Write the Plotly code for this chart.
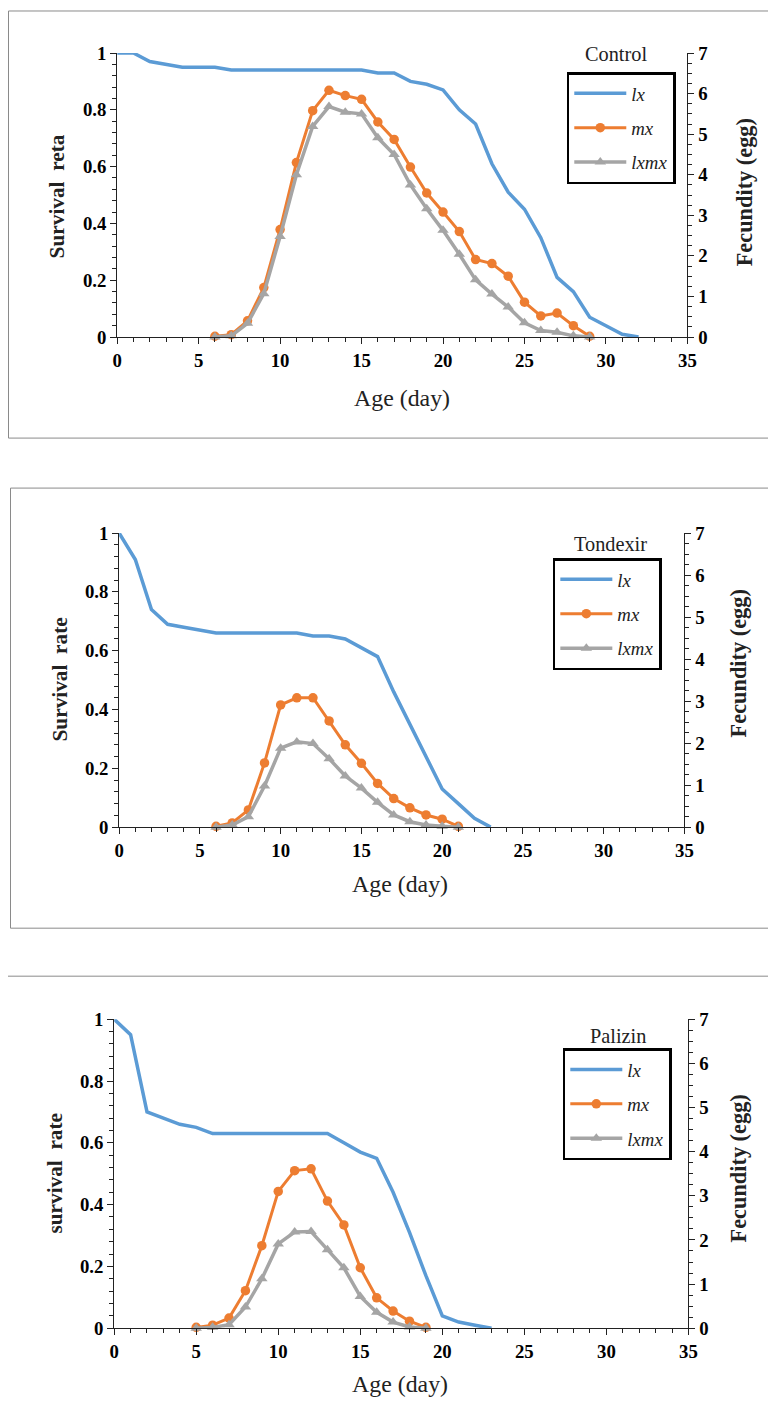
import plotly.graph_objects as go

W, H = 776, 1418

# ---------------- data ----------------
days_lx_control = list(range(0, 33))
lx_control = [1, 1, 0.97, 0.96, 0.95, 0.95, 0.95, 0.94, 0.94, 0.94, 0.94, 0.94, 0.94, 0.94, 0.94, 0.94,
              0.93, 0.93, 0.90, 0.89, 0.87, 0.80, 0.75, 0.61, 0.51, 0.45, 0.35, 0.21, 0.16, 0.07, 0.04, 0.01, 0]
days_f_control = list(range(6, 30))
mx_control = [0.02, 0.06, 0.4, 1.22, 2.65, 4.3, 5.58, 6.08, 5.95, 5.86, 5.3, 4.87, 4.19, 3.55, 3.08, 2.6,
              1.91, 1.81, 1.5, 0.86, 0.52, 0.59, 0.28, 0.02]
lxmx_control = [0, 0.03, 0.34, 1.07, 2.48, 4.0, 5.19, 5.68, 5.54, 5.5, 4.91, 4.5, 3.75, 3.16, 2.63, 2.04,
                1.41, 1.06, 0.74, 0.35, 0.16, 0.12, 0.03, 0]

days_lx_tondexir = list(range(0, 24))
lx_tondexir = [1, 0.91, 0.74, 0.69, 0.68, 0.67, 0.66, 0.66, 0.66, 0.66, 0.66, 0.66, 0.65, 0.65, 0.64, 0.61,
               0.58, 0.46, 0.35, 0.24, 0.13, 0.08, 0.03, 0]
days_f_tondexir = list(range(6, 22))
mx_tondexir = [0.02, 0.1, 0.41, 1.53, 2.91, 3.08, 3.08, 2.53, 1.96, 1.52, 1.04, 0.68, 0.46, 0.29, 0.19, 0.02]
lxmx_tondexir = [0, 0.05, 0.25, 0.98, 1.88, 2.03, 1.99, 1.63, 1.22, 0.93, 0.59, 0.29, 0.13, 0.05, 0.02, 0]

days_lx_palizin = list(range(0, 24))
lx_palizin = [1, 0.95, 0.70, 0.68, 0.66, 0.65, 0.63, 0.63, 0.63, 0.63, 0.63, 0.63, 0.63, 0.63, 0.60, 0.57,
              0.55, 0.44, 0.31, 0.17, 0.04, 0.02, 0.01, 0]
days_f_palizin = list(range(5, 20))
mx_palizin = [0.02, 0.07, 0.23, 0.85, 1.87, 3.1, 3.57, 3.61, 2.88, 2.34, 1.37, 0.69, 0.39, 0.16, 0.02]
lxmx_palizin = [0, 0.02, 0.08, 0.48, 1.12, 1.91, 2.18, 2.19, 1.78, 1.37, 0.72, 0.36, 0.14, 0.03, 0]

panel_titles = ["Control", "Tondexir", "Palizin"]
left_titles = ["Survival  reta", "Survival  rate", "survival  rate"]
right_title = "Fecundity (egg)"
x_title = "Age (day)"
series_names = ["lx", "mx", "lxmx"]

panels = [
    (days_lx_control, lx_control, days_f_control, mx_control, lxmx_control),
    (days_lx_tondexir, lx_tondexir, days_f_tondexir, mx_tondexir, lxmx_tondexir),
    (days_lx_palizin, lx_palizin, days_f_palizin, mx_palizin, lxmx_palizin),
]

# ---------------- layout geometry (target screen pixels) ----------------
plot_boxes = [  # x0, x1, ytop, ybottom
    (117, 689, 52, 336),
    (119, 686, 532, 826),
    (114, 690, 1018, 1327),
]
frames = [(8, 10, 437), (10, 487, 927), (6, 975, 1440)]
legend_pos = [(568, 71), (554, 557), (564, 1047)]
ptitle_pos = [(617, 53), (612, 543), (619, 1035)]
ltitle_pos = [(57, 195), (60, 678), (55, 1172)]
rtitle_pos = [(746, 191), (740, 662), (740, 1167)]
xtitle_pos = [(403, 397), (401, 883), (401, 1383)]

# observed page placement of the figure on screen: screen = S * fig + offset
S, OX, OY = 0.985, 12.5, 17.0

C_BLUE, C_ORANGE, C_GRAY = "#5B9BD5", "#ED7D31", "#A5A5A5"
SERIF = "Liberation Serif"


def px(x):
    return ((x - OX) / S) / W


def py(y):
    return 1 - ((y - OY) / S) / H


def fs(s):
    return s / S


fig = go.Figure()
layout = dict(
    width=W, height=H, margin=dict(l=0, r=0, t=0, b=0),
    paper_bgcolor="white", plot_bgcolor="white", showlegend=True,
    shapes=[], annotations=[],
)

tick_font = dict(family=SERIF, size=fs(18.5), color="black", weight="bold")

for i, (dlx, lx, df, mx, lxmx) in enumerate(panels):
    n = i + 1
    xa = "x" if n == 1 else f"x{n}"
    yl = f"y{2 * n - 1}" if n > 1 else "y"
    yr = f"y{2 * n}"
    leg = "legend" if n == 1 else f"legend{n}"

    fig.add_trace(go.Scatter(x=dlx, y=lx, mode="lines", name=series_names[0], xaxis=xa, yaxis=yl,
                             line=dict(color=C_BLUE, width=3.5), legend=leg, legendgroup=f"a{n}",
                             cliponaxis=False))
    fig.add_trace(go.Scatter(x=df, y=mx, mode="lines+markers", name=series_names[1], xaxis=xa, yaxis=yr,
                             line=dict(color=C_ORANGE, width=3),
                             marker=dict(symbol="circle", size=9.5, color=C_ORANGE),
                             legend=leg, legendgroup=f"b{n}", cliponaxis=False))
    fig.add_trace(go.Scatter(x=df, y=lxmx, mode="lines+markers", name=series_names[2], xaxis=xa, yaxis=yr,
                             line=dict(color=C_GRAY, width=3.5),
                             marker=dict(symbol="triangle-up", size=10, color=C_GRAY),
                             legend=leg, legendgroup=f"c{n}", cliponaxis=False))

    x0, x1, yt, yb = plot_boxes[i]
    xkey = "xaxis" if n == 1 else f"xaxis{n}"
    ylkey = "yaxis" if n == 1 else f"yaxis{2 * n - 1}"
    yrkey = f"yaxis{2 * n}"
    common = dict(showline=True, linecolor="#222", linewidth=1, showgrid=False, zeroline=False,
                  ticks="outside", ticklen=6, tickcolor="#222", tickfont=tick_font)
    layout[xkey] = dict(
        domain=[px(x0), px(x1)], anchor=yl, range=[0, 35], dtick=5, tick0=0,
        minor=dict(dtick=1, ticks="outside", ticklen=4, tickcolor="#222", showgrid=False), **common)
    layout[ylkey] = dict(
        domain=[py(yb), py(yt)], anchor=xa, range=[0, 1], dtick=0.2, tick0=0,
        minor=dict(dtick=0.04, ticks="outside", ticklen=4, tickcolor="#222", showgrid=False), **common)
    layout[yrkey] = dict(
        domain=[py(yb), py(yt)], anchor=xa, overlaying=yl, side="right", range=[0, 7], dtick=1, tick0=0,
        minor=dict(dtick=0.25, ticks="outside", ticklen=4, tickcolor="#222", showgrid=False), **common)

    lx0, ly0 = legend_pos[i]
    layout[leg] = dict(
        x=px(lx0), y=py(ly0), xanchor="left", yanchor="top",
        bgcolor="white", bordercolor="black", borderwidth=2.5,
        font=dict(family=SERIF, size=fs(18.5), color="#222", style="italic"),
        itemwidth=52, tracegroupgap=7, traceorder="grouped",
    )

    fx, fy0, fy1 = frames[i]
    layout["shapes"].append(dict(type="rect", xref="paper", yref="paper",
                                 x0=px(fx), x1=1.02, y0=py(fy1), y1=py(fy0),
                                 line=dict(color="#8a8a8a", width=1), layer="below"))

    tx, ty = ptitle_pos[i]
    layout["annotations"].append(dict(text=panel_titles[i], x=px(tx), y=py(ty), xref="paper", yref="paper",
                                      showarrow=False, xanchor="center", yanchor="middle",
                                      font=dict(family=SERIF, size=fs(20), color="#222")))
    ax_, ay_ = ltitle_pos[i]
    layout["annotations"].append(dict(text=left_titles[i], x=px(ax_), y=py(ay_), xref="paper", yref="paper",
                                      showarrow=False, textangle=-90, xanchor="center", yanchor="middle",
                                      font=dict(family=SERIF, size=fs(21), color="#222", weight="bold")))
    rx, ry = rtitle_pos[i]
    layout["annotations"].append(dict(text=right_title, x=px(rx), y=py(ry), xref="paper", yref="paper",
                                      showarrow=False, textangle=-90, xanchor="center", yanchor="middle",
                                      font=dict(family=SERIF, size=fs(22), color="#222", weight="bold")))
    gx, gy = xtitle_pos[i]
    layout["annotations"].append(dict(text=x_title, x=px(gx), y=py(gy), xref="paper", yref="paper",
                                      showarrow=False, xanchor="center", yanchor="middle",
                                      font=dict(family=SERIF, size=fs(23.5), color="#222")))

fig.update_layout(**layout)
fig.write_html("out.html")
